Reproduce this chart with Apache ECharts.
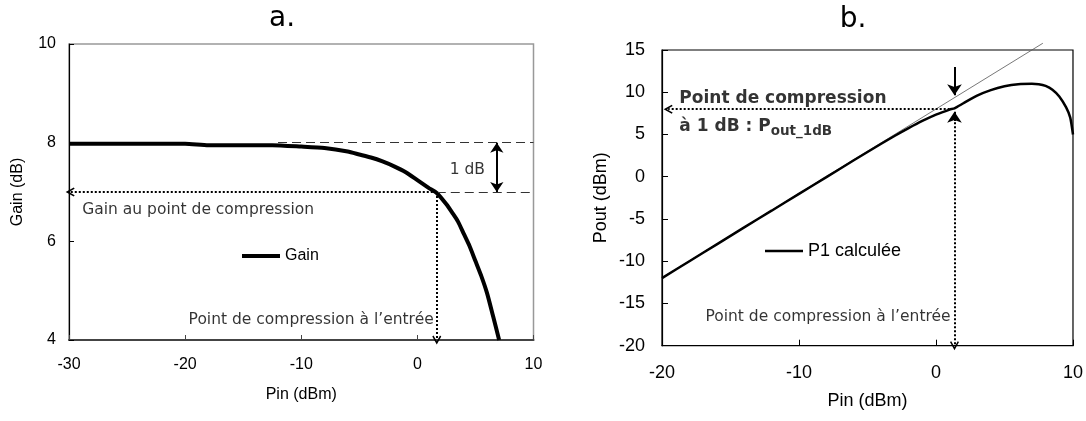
<!DOCTYPE html>
<html>
<head>
<meta charset="utf-8">
<script src="https://cdn.jsdelivr.net/npm/echarts@6/dist/echarts.min.js"></script>
<style>
  html, body { margin: 0; padding: 0; background: #fff; }
  #chart { width: 1086px; height: 421px; }
</style>
</head>
<body>
<div id="chart"></div>
<script>
// ---------- Chart a: Gain vs Pin ----------
const gainPin = [-30, -25, -20, -18, -15, -12.5, -10, -8, -6, -5, -4, -3, -2, -1, 0, 1, 1.67, 2.5, 3, 3.5, 4, 4.5, 5, 5.5, 6, 6.5, 7.04];
const gainDb  = [7.98, 7.98, 7.98, 7.95, 7.95, 7.95, 7.92, 7.89, 7.82, 7.76, 7.70, 7.62, 7.52, 7.40, 7.24, 7.08, 6.98, 6.75, 6.58, 6.40, 6.15, 5.90, 5.60, 5.30, 4.95, 4.50, 4.00];
const axisA = { xMin: -30, xMax: 10, xStep: 10, yMin: 4, yMax: 10, yStep: 2 };
const gainLinear = 8;        // small-signal gain (dB)
const gainCompressed = 7;    // gain at 1 dB compression
const pinCompA = 1.67;       // input compression point (dBm)
const dashStartA = -12;
const dbArrowX = 6.84;
const textsA = [
  { x: -28.9, y: 6.64, text: 'Gain au point de compression', side: 'right' },
  { x: 1.45, y: 4.41, text: 'Point de compression à l’entrée', side: 'left' },
  { x: 4.3, y: 7.45, text: '1 dB', side: 'inside' }
];

// ---------- Chart b: Pout vs Pin ----------
const p1Pin  = [-20, -18, -16, -14, -12, -10, -8, -6, -4, -3, -2, -1, 0, 1, 1.35, 2, 3, 4, 5, 6, 7, 7.5, 8, 8.5, 9, 9.5, 9.8, 10];
const p1Pout = [-12.0, -10.0, -8.0, -6.0, -4.02, -2.03, -0.05, 1.95, 3.9, 4.85, 5.75, 6.6, 7.35, 7.95, 8.1, 8.7, 9.6, 10.25, 10.7, 10.95, 11.0, 10.95, 10.75, 10.3, 9.5, 8.2, 7.0, 5.0];
const refPin  = [-20.5, 7.8];
const refPout = [-12.45, 15.8];
const axisB = { xMin: -20, xMax: 10, xStep: 10, yMin: -20, yMax: 15, yStep: 5 };
const pinCompB = 1.35;
const poutComp = 8.0;
const textsB = [
  { x: 1.1, y: -16.6, text: 'Point de compression à l’entrée', side: 'left' }
];

const AX_FONT = '"Liberation Sans", Arial, sans-serif';
const NOTE_FONT = '"DejaVu Sans", sans-serif';
const CHEVRON = 'path://M5,0 L10,9 L8.6,10 L5,3.6 L1.4,10 L0,9 Z';

function noteSeries(xi, yi, texts, fontSize) {
  return {
    type: 'scatter', xAxisIndex: xi, yAxisIndex: yi, silent: true,
    symbolSize: 1, itemStyle: { color: 'transparent' },
    data: texts.map(t => ({
      value: [t.x, t.y],
      label: { show: true, position: t.side, distance: 0, formatter: t.text,
               color: '#000', fontFamily: NOTE_FONT, fontSize: fontSize }
    }))
  };
}

const dotted = { type: [2, 2], width: 2, color: '#000' };
const dashed = { type: [9, 5], width: 1, color: '#333' };
const solid = { type: 'solid', width: 2, color: '#000' };

function seg(x1, y1, x2, y2, style, s1, s2, size) {
  return [
    { coord: [x1, y1], symbol: s1, symbolSize: size || 9, lineStyle: style },
    { coord: [x2, y2], symbol: s2, symbolSize: size || 9 }
  ];
}

const chart = echarts.init(document.getElementById('chart'), null, { renderer: 'canvas' });

const option = {
  animation: false,
  backgroundColor: '#fff',
  graphic: [
    { type: 'text', x: 282, y: 19, style: { text: 'a.', font: '28px ' + NOTE_FONT, fill: '#000', textAlign: 'center', textVerticalAlign: 'middle' } },
    { type: 'text', x: 853, y: 20, style: { text: 'b.', font: '28px ' + NOTE_FONT, fill: '#000', textAlign: 'center', textVerticalAlign: 'middle' } }
  ],
  legend: [
    { data: ['Gain'], left: 242, top: 248, padding: 0, icon: 'rect', itemWidth: 38, itemHeight: 4, selectedMode: false,
      textStyle: { fontFamily: AX_FONT, fontSize: 16, color: '#000' } },
    { data: ['P1 calculée'], left: 765, top: 242, padding: 0, icon: 'rect', itemWidth: 38, itemHeight: 2.5, selectedMode: false,
      textStyle: { fontFamily: AX_FONT, fontSize: 18, color: '#000' } }
  ],
  grid: [
    { left: 69, top: 44, width: 464.5, height: 296, show: true, borderColor: '#999', borderWidth: 1.5 },
    { left: 662, top: 50, width: 413, height: 295.7, show: true, borderColor: '#000', borderWidth: 1.2 }
  ],
  xAxis: [
    { gridIndex: 0, type: 'value', min: axisA.xMin, max: axisA.xMax, interval: axisA.xStep,
      axisLine: { onZero: false, lineStyle: { color: '#444', width: 2 } },
      axisTick: { inside: true, length: 5, lineStyle: { color: '#444' } },
      axisLabel: { margin: 17, fontSize: 16, color: '#000', fontFamily: AX_FONT },
      splitLine: { show: false },
      name: 'Pin (dBm)', nameLocation: 'middle', nameGap: 47,
      nameTextStyle: { fontSize: 16, color: '#000', fontFamily: AX_FONT } },
    { gridIndex: 1, type: 'value', min: axisB.xMin, max: axisB.xMax, interval: axisB.xStep,
      axisLine: { onZero: false, lineStyle: { color: '#000', width: 1.2 } },
      axisTick: { inside: true, length: 6, lineStyle: { color: '#000' } },
      axisLabel: { margin: 18, fontSize: 18, color: '#000', fontFamily: AX_FONT },
      splitLine: { show: false },
      name: 'Pin (dBm)', nameLocation: 'middle', nameGap: 46,
      nameTextStyle: { fontSize: 18, color: '#000', fontFamily: AX_FONT } }
  ],
  yAxis: [
    { gridIndex: 0, type: 'value', min: axisA.yMin, max: axisA.yMax, interval: axisA.yStep,
      axisLine: { onZero: false, lineStyle: { color: '#000', width: 1.2 } },
      axisTick: { inside: true, length: 5, lineStyle: { color: '#000' } },
      axisLabel: { margin: 13, fontSize: 16, color: '#000', fontFamily: AX_FONT },
      splitLine: { show: false },
      name: 'Gain (dB)', nameLocation: 'middle', nameGap: 43,
      nameTextStyle: { fontSize: 16, color: '#000', fontFamily: AX_FONT } },
    { gridIndex: 1, type: 'value', min: axisB.yMin, max: axisB.yMax, interval: axisB.yStep,
      axisLine: { onZero: false, lineStyle: { color: '#000', width: 1.2 } },
      axisTick: { inside: true, length: 6, lineStyle: { color: '#000' } },
      axisLabel: { margin: 17, fontSize: 18, color: '#000', fontFamily: AX_FONT },
      splitLine: { show: false },
      name: 'Pout (dBm)', nameLocation: 'middle', nameGap: 52,
      nameTextStyle: { fontSize: 18, color: '#000', fontFamily: AX_FONT } }
  ],
  series: [
    { name: 'Gain', type: 'line', xAxisIndex: 0, yAxisIndex: 0, silent: true,
      symbol: 'none', smooth: 0.2, lineStyle: { color: '#000', width: 4 }, itemStyle: { color: '#000' },
      data: gainPin.map((p, i) => [p, gainDb[i]]),
      markLine: { silent: true, animation: false, label: { show: false },
        data: [
          seg(dashStartA, gainLinear, axisA.xMax, gainLinear, dashed, 'none', 'none'),
          seg(pinCompA, gainCompressed, axisA.xMax, gainCompressed, dashed, 'none', 'none'),
          seg(pinCompA, gainCompressed, -29.9, gainCompressed, dotted, 'none', CHEVRON, 9),
          seg(pinCompA, gainCompressed, pinCompA, axisA.yMin, dotted, 'none', CHEVRON, 9),
          seg(dbArrowX, gainLinear, dbArrowX, gainCompressed, solid, 'arrow', 'arrow', 10)
        ] } },
    noteSeries(0, 0, textsA, 15.5),
    { name: 'ref', type: 'line', xAxisIndex: 1, yAxisIndex: 1, silent: true, clip: false,
      symbol: 'none', lineStyle: { color: '#555', width: 0.8 },
      data: refPin.map((p, i) => [p, refPout[i]]) },
    { name: 'P1 calculée', type: 'line', xAxisIndex: 1, yAxisIndex: 1, silent: true,
      symbol: 'none', smooth: 0.2, lineStyle: { color: '#000', width: 2.5 }, itemStyle: { color: '#000' },
      data: p1Pin.map((p, i) => [p, p1Pout[i]]),
      markLine: { silent: true, animation: false, label: { show: false },
        data: [
          seg(1.0, poutComp, -19.55, poutComp, dotted, 'none', CHEVRON, 9),
          seg(pinCompB, 7.4, pinCompB, axisB.yMin, dotted, 'none', CHEVRON, 9),
          seg(pinCompB, 6.6, pinCompB, 7.7, solid, 'none', 'arrow', 11),
          seg(pinCompB, 13.0, pinCompB, 9.65, solid, 'none', 'arrow', 11)
        ] } },
    noteSeries(1, 1, textsB, 15.5),
    { type: 'scatter', xAxisIndex: 1, yAxisIndex: 1, silent: true, symbolSize: 1, itemStyle: { color: 'transparent' },
      data: [
        { value: [-18.77, 9.28], label: { show: true, position: 'right', distance: 0, formatter: 'Point de compression',
            color: '#000', fontFamily: NOTE_FONT, fontSize: 17, fontWeight: 'bold' } },
        { value: [-18.77, 5.92], label: { show: true, position: 'right', distance: 0, formatter: '{m|à 1 dB : P}{s|out_1dB}',
            rich: { m: { color: '#000', fontFamily: NOTE_FONT, fontSize: 17, fontWeight: 'bold' },
                    s: { color: '#000', fontFamily: NOTE_FONT, fontSize: 13.5, fontWeight: 'bold', padding: [10, 0, 0, 0] } } } }
      ] }
  ]
};
chart.setOption(option);
</script>
</body>
</html>
